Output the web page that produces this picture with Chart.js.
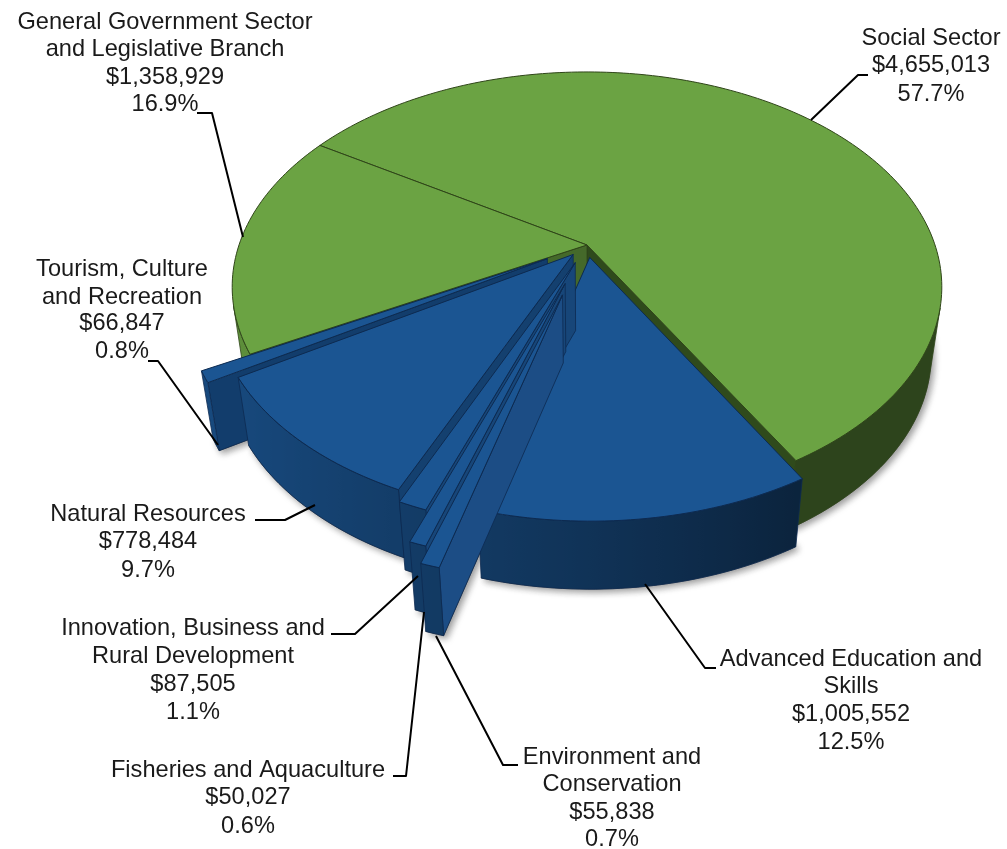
<!DOCTYPE html>
<html>
<head>
<meta charset="utf-8">
<title>Budget by sector</title>
<script src="https://cdn.jsdelivr.net/npm/chart.js@4"></script>
<style>
  html, body { margin: 0; background: #fff; }
  canvas { display: block; }
</style>
</head>
<body>
<canvas id="myChart" width="1007" height="849"></canvas>
<script>
// clockwise from the Social Sector slice
const categories = [
  ["Social Sector"],
  ["Advanced Education and", "Skills"],
  ["Environment and", "Conservation"],
  ["Fisheries and Aquaculture"],
  ["Innovation, Business and", "Rural Development"],
  ["Natural Resources"],
  ["Tourism, Culture", "and Recreation"],
  ["General Government Sector", "and Legislative Branch"]
];
const budgets = [4655013, 1005552, 55838, 50027, 87505, 778484, 66847, 1358929];
const percents = ["57.7%", "12.5%", "0.7%", "0.6%", "1.1%", "9.7%", "0.8%", "16.9%"];
// how far each slice is pulled out, in percent of the radius
const explode = [0, 6, 24, 19, 9, 6, 13, 0];

const GREEN = "#6ba343", BLUE = "#1b5592";
const sliceColors = [GREEN, BLUE, BLUE, BLUE, BLUE, BLUE, BLUE, GREEN];
const edgeColors = ["#2f4519", "#0d2a50", "#0d2a50", "#0d2a50", "#0d2a50", "#0d2a50", "#0d2a50", "#2f4519"];
const startWalls = ["#2f4519", "#174679", "#1c4d85", "#174679", "#174679", "#14406f", "#123d6c", "#45692a"];
const endWalls = ["#2f4a1c", "#11345f", "#123e6e", "#123e6e", "#123e6e", "#14406f", "#1a4f88", "#45692a"];
// back to front
const drawOrder = [0, 7, 1, 6, 5, 4, 3, 2];

// text layout: centre x and the y of each line, then the leader polyline
const labelX = [931, 851, 612, 248, 193, 148, 122, 165];
const labelY = [
  [38, 65, 94],
  [659, 686, 714, 742],
  [757, 784, 812, 839],
  [770, 797, 826],
  [628, 656, 684, 712],
  [514, 541, 570],
  [269, 297, 323, 351],
  [22, 49, 77, 104]
];
const leaders = [
  [[811, 120], [858, 75], [868, 75]],
  [[645, 584], [705, 668], [716, 668]],
  [[436, 636], [503, 765], [518, 765]],
  [[424, 612], [406, 776], [393, 776]],
  [[418, 576], [355, 634], [331, 634]],
  [[315, 505], [285, 520], [255, 520]],
  [[218, 445], [158, 361], [148, 361]],
  [[243, 237], [212, 113], [197, 113]]
];

// perspective of the pie plane
const view = { cx: 587, cy: 245, rx: 348, ry: 206.8, tilt: 0.195, depth: 68, narrow: 0.03 };

function project(u, v, z) {
  const w = 1 - view.tilt * v;
  const x = view.cx + view.rx * u / w;
  const y = view.cy + view.ry * v / w;
  return [view.cx + (x - view.cx) * (1 - view.narrow * z), y + view.depth * z];
}

function shade(hex, f) {
  const n = parseInt(hex.slice(1), 16);
  const c = [n >> 16, (n >> 8) & 255, n & 255].map(p => Math.round(p * f));
  return `rgb(${c[0]},${c[1]},${c[2]})`;
}

function wallShade(nu) {
  return nu < 0 ? 0.6 - nu * 0.3 : Math.max(0.42, 0.6 - nu * 0.36);
}

// top outline of one slice as plane coordinates: apex, then rim points
function sliceOutline(arc) {
  const mid = (arc.startAngle + arc.endAngle) / 2;
  const off = arc.options.offset / 100;
  const ou = Math.cos(mid) * off, ov = Math.sin(mid) * off;
  const pts = [[ou, ov, null]];
  const steps = Math.max(2, Math.ceil((arc.endAngle - arc.startAngle) / 0.02));
  for (let i = 0; i <= steps; i++) {
    const a = arc.startAngle + (arc.endAngle - arc.startAngle) * i / steps;
    pts.push([ou + Math.cos(a), ov + Math.sin(a), Math.cos(a)]);
  }
  return pts;
}

function fillPoly(ctx, pts, fill, stroke, lw) {
  ctx.beginPath();
  pts.forEach((p, i) => i ? ctx.lineTo(p[0], p[1]) : ctx.moveTo(p[0], p[1]));
  ctx.closePath();
  ctx.fillStyle = fill;
  ctx.fill();
  ctx.strokeStyle = stroke || fill;
  ctx.lineWidth = lw || 0.6;
  ctx.lineJoin = "round";
  ctx.stroke();
}

// the walls that face the viewer, the rim ones come back as one run
function visibleWalls(outline) {
  const cuts = [], rim = [];
  const n = outline.length;
  for (let i = 0; i < n; i++) {
    const a = outline[i], b = outline[(i + 1) % n];
    const q = [project(b[0], b[1], 0), project(a[0], a[1], 0), project(a[0], a[1], 1), project(b[0], b[1], 1)];
    let area = 0;
    q.forEach((p, j) => {
      const r = q[(j + 1) % 4];
      area += p[0] * r[1] - r[0] * p[1];
    });
    if (area <= 0) continue;
    if (i === 0 || i === n - 1) cuts.push({ q, first: i === 0 });
    else rim.push({ q, nu: a[2] });
  }
  return { cuts, rim };
}

function drawRim(ctx, rim, base, edge) {
  if (!rim.length) return;
  const tops = [rim[0].q[1], ...rim.map(r => r.q[0])];
  const bottoms = [rim[0].q[2], ...rim.map(r => r.q[3])];
  const xs = tops.map(p => p[0]);
  const minX = Math.min(...xs), maxX = Math.max(...xs);
  const grad = ctx.createLinearGradient(minX, 0, Math.max(maxX, minX + 1), 0);
  rim.forEach(r => {
    const pos = (r.q[0][0] - minX) / Math.max(maxX - minX, 1);
    grad.addColorStop(Math.min(1, Math.max(0, pos)), shade(base, wallShade(r.nu)));
  });
  fillPoly(ctx, [...tops, ...bottoms.reverse()], grad, edge, 0.8);
}

const pie3d = {
  id: "pie3d",
  // the library works out the angles, this only paints them in perspective
  beforeDatasetsDraw(chart) {
    const ctx = chart.ctx;
    const arcs = chart.getDatasetMeta(0).data;

    // soft shadow on the paper
    ctx.save();
    ctx.shadowColor = "rgba(60,60,60,0.5)";
    ctx.shadowBlur = 6;
    ctx.shadowOffsetX = 3;
    ctx.shadowOffsetY = 3;
    arcs.forEach(arc => {
      const o = sliceOutline(arc);
      fillPoly(ctx, o.map(p => project(p[0], p[1], 1)), "#555");
    });
    ctx.restore();

    drawOrder.forEach(i => {
      const outline = sliceOutline(arcs[i]);
      const walls = visibleWalls(outline);
      walls.cuts.forEach(w => fillPoly(ctx, w.q, w.first ? startWalls[i] : endWalls[i], edgeColors[i], 0.8));
      drawRim(ctx, walls.rim, sliceColors[i], edgeColors[i]);
      fillPoly(ctx, outline.map(p => project(p[0], p[1], 0)), sliceColors[i], edgeColors[i], 1);
    });
    return false;
  },
  afterDraw(chart) {
    const ctx = chart.ctx;
    ctx.save();
    ctx.strokeStyle = "#000";
    ctx.lineWidth = 2;
    leaders.forEach(line => {
      ctx.beginPath();
      line.forEach((p, i) => i ? ctx.lineTo(p[0], p[1]) : ctx.moveTo(p[0], p[1]));
      ctx.stroke();
    });
    ctx.fillStyle = "#1a1a1a";
    ctx.font = '23.6px "Liberation Sans", Arial, sans-serif';
    ctx.textAlign = "center";
    ctx.textBaseline = "middle";
    categories.forEach((name, i) => {
      const money = "$" + budgets[i].toLocaleString("en-US");
      [...name, money, percents[i]].forEach((text, j) => {
        ctx.fillText(text, labelX[i], labelY[i][j] + 0.5);
      });
    });
    ctx.restore();
  }
};

new Chart(document.getElementById("myChart").getContext("2d"), {
  type: "pie",
  data: {
    labels: categories.map(c => c.join(" ")),
    datasets: [{
      data: budgets,
      backgroundColor: sliceColors,
      offset: explode,
      borderWidth: 0
    }]
  },
  options: {
    responsive: false,
    animation: false,
    rotation: -57.9,
    plugins: { legend: { display: false }, tooltip: { enabled: false } }
  },
  plugins: [pie3d]
});
</script>
</body>
</html>
